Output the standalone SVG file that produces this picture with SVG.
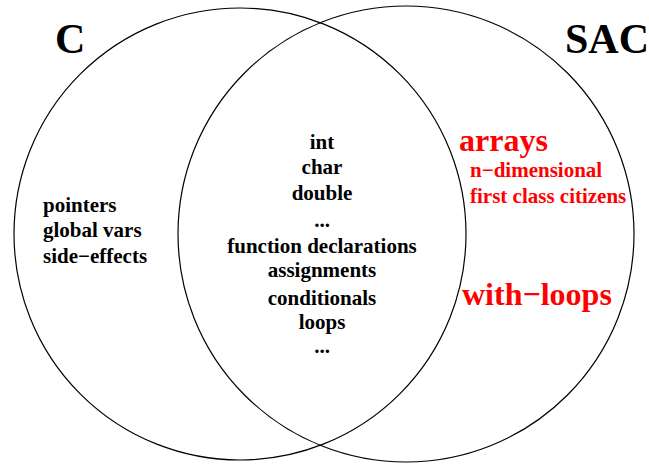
<svg xmlns="http://www.w3.org/2000/svg" width="649" height="466" viewBox="0 0 649 466">
<style>
  .set { fill: none; stroke: #000; stroke-width: 1.2; }
  text { font-family: "Liberation Serif", "Times New Roman", serif; font-weight: bold; }
  .title { font-size: 42px; fill: #000; }
  .item { font-size: 21px; fill: #000; }
  .mid { text-anchor: middle; }
  .red { fill: #ff0000; }
  .big { font-size: 32px; }
</style>
<rect width="649" height="466" fill="#fff"/>
<g id="set-c">
  <circle class="set" cx="240" cy="234" r="226"/>
  <text class="title" x="55" y="53">C</text>
</g>
<g id="set-sac">
  <circle class="set" cx="406" cy="234" r="228"/>
  <text class="title" x="565" y="53">SAC</text>
</g>
<g id="c-only">
  <text class="item" x="43" y="212">pointers</text>
  <text class="item" x="43" y="237">global vars</text>
  <text class="item" x="43" y="263">side−effects</text>
</g>
<g id="common">
  <text class="item mid" x="322" y="149">int</text>
  <text class="item mid" x="322" y="174">char</text>
  <text class="item mid" x="322" y="200">double</text>
  <text class="item mid" x="322" y="227">...</text>
  <text class="item mid" x="322" y="253">function declarations</text>
  <text class="item mid" x="322" y="277">assignments</text>
  <text class="item mid" x="322" y="305">conditionals</text>
  <text class="item mid" x="322" y="329">loops</text>
  <text class="item mid" x="322" y="353">...</text>
</g>
<g id="sac-only">
  <text class="big red" x="459" y="151">arrays</text>
  <text class="item red" x="470" y="177">n−dimensional</text>
  <text class="item red" x="470" y="203">first class citizens</text>
  <text class="big red" x="462" y="305">with−loops</text>
</g>
<g id="connectors"></g>
</svg>
